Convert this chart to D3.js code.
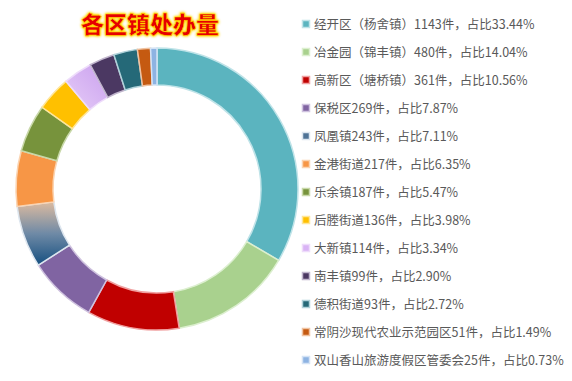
<!DOCTYPE html>
<html>
<head>
<meta charset="utf-8">
<script src="https://cdn.jsdelivr.net/npm/d3@7"></script>
<style>
  html, body { margin: 0; padding: 0; background: #fff; }
  svg { display: block; }
</style>
</head>
<body>
<div id="chart"></div>
<script>
// data
var names = ["经开区（杨舍镇）", "冶金园（锦丰镇）", "高新区（塘桥镇）", "保税区", "凤凰镇",
  "金港街道", "乐余镇", "后塍街道", "大新镇", "南丰镇", "德积街道",
  "常阴沙现代农业示范园区", "双山香山旅游度假区管委会"];
var counts = [1143, 480, 361, 269, 243, 217, 187, 136, 114, 99, 93, 51, 25];
var colors = ["#5bb4bf", "#a9d18e", "#c00000", "#8064a2", "url(#gradFH)",
  "#f79646", "#77933c", "#ffc000", "url(#gradDX)", "#4b3862", "#256978",
  "#c55a11", "#8db3e2"];
var legendColors = ["#5bb4bf", "#a9d18e", "#c00000", "#8064a2", "#4f7396",
  "#f79646", "#77933c", "#ffc000", "#d9b3f5", "#4b3862", "#256978",
  "#c55a11", "#8db3e2"];
var edgeColors = ["#bfe3e8", "#dcefcf", "#f0a0a0", "#cfc2df", "#dde6ef",
  "#fbd3b0", "#c8d8a8", "#ffe699", "#eedcfb", "#c0b5cc", "#b0d2da",
  "#f0c2a0", "#d4e3f5"];

var W = 572, H = 381;
var cx = 157, cy = 189, rOut = 141, rIn = 104;

var svg = d3.select("#chart").append("svg")
  .attr("width", W)
  .attr("height", H);

var defs = svg.append("defs");

var g1 = defs.append("linearGradient").attr("id", "gradFH")
  .attr("x1", 0).attr("y1", 0).attr("x2", 0).attr("y2", 1);
g1.append("stop").attr("offset", "0%").attr("stop-color", "#dcbba0");
g1.append("stop").attr("offset", "50%").attr("stop-color", "#6f8aa6");
g1.append("stop").attr("offset", "100%").attr("stop-color", "#154f80");

var g2 = defs.append("linearGradient").attr("id", "gradDX")
  .attr("x1", 0).attr("y1", 1).attr("x2", 1).attr("y2", 0);
g2.append("stop").attr("offset", "0%").attr("stop-color", "#e6cdf8");
g2.append("stop").attr("offset", "100%").attr("stop-color", "#caa0ee");

var glow = defs.append("filter").attr("id", "glow")
  .attr("x", "-20%").attr("y", "-40%").attr("width", "140%").attr("height", "180%");
glow.append("feGaussianBlur").attr("in", "SourceAlpha").attr("stdDeviation", 1.6).attr("result", "b");
glow.append("feFlood").attr("flood-color", "#ffd800");
glow.append("feComposite").attr("in2", "b").attr("operator", "in").attr("result", "y");
var mrg = glow.append("feMerge");
mrg.append("feMergeNode").attr("in", "y");
mrg.append("feMergeNode").attr("in", "y");
mrg.append("feMergeNode").attr("in", "SourceGraphic");

// title
svg.append("text")
  .attr("x", 150)
  .attr("y", 33)
  .attr("text-anchor", "middle")
  .attr("font-family", "'Noto Sans CJK SC', sans-serif")
  .attr("font-weight", 900)
  .attr("font-size", 23)
  .attr("fill", "#e60000")
  .attr("stroke", "#ffcc00")
  .attr("stroke-width", 0.6)
  .attr("filter", "url(#glow)")
  .text("各区镇处办量");

// donut
var total = d3.sum(counts);
var pie = d3.pie().sort(null).value(function (d) { return d; });
var arc = d3.arc().innerRadius(rIn).outerRadius(rOut);

svg.append("g")
  .attr("transform", "translate(" + cx + "," + cy + ")")
  .selectAll("path")
  .data(pie(counts))
  .enter().append("path")
  .attr("d", arc)
  .attr("fill", function (d, i) { return colors[i]; })
  .attr("stroke", function (d, i) { return edgeColors[i]; })
  .attr("stroke-width", 1.5);

// legend
var y = d3.scaleBand()
  .domain(d3.range(names.length))
  .range([10, 374]);

var leg = svg.append("g").selectAll("g")
  .data(names)
  .enter().append("g")
  .attr("transform", function (d, i) { return "translate(302," + (y(i) + y.bandwidth() / 2) + ")"; });

leg.append("rect")
  .attr("x", 0.5).attr("y", -3.5)
  .attr("width", 7).attr("height", 7)
  .attr("fill", function (d, i) { return legendColors[i]; })
  .attr("stroke", function (d, i) { return edgeColors[i]; })
  .attr("stroke-width", 1.5);

leg.append("text")
  .attr("x", 12)
  .attr("dy", "0.36em")
  .attr("font-family", "'Noto Sans CJK SC', sans-serif")
  .attr("font-size", 12.5)
  .attr("fill", "#595959")
  .text(function (d, i) {
    return d + counts[i] + "件，占比" + (counts[i] / total * 100).toFixed(2) + "%";
  });
</script>
</body>
</html>
